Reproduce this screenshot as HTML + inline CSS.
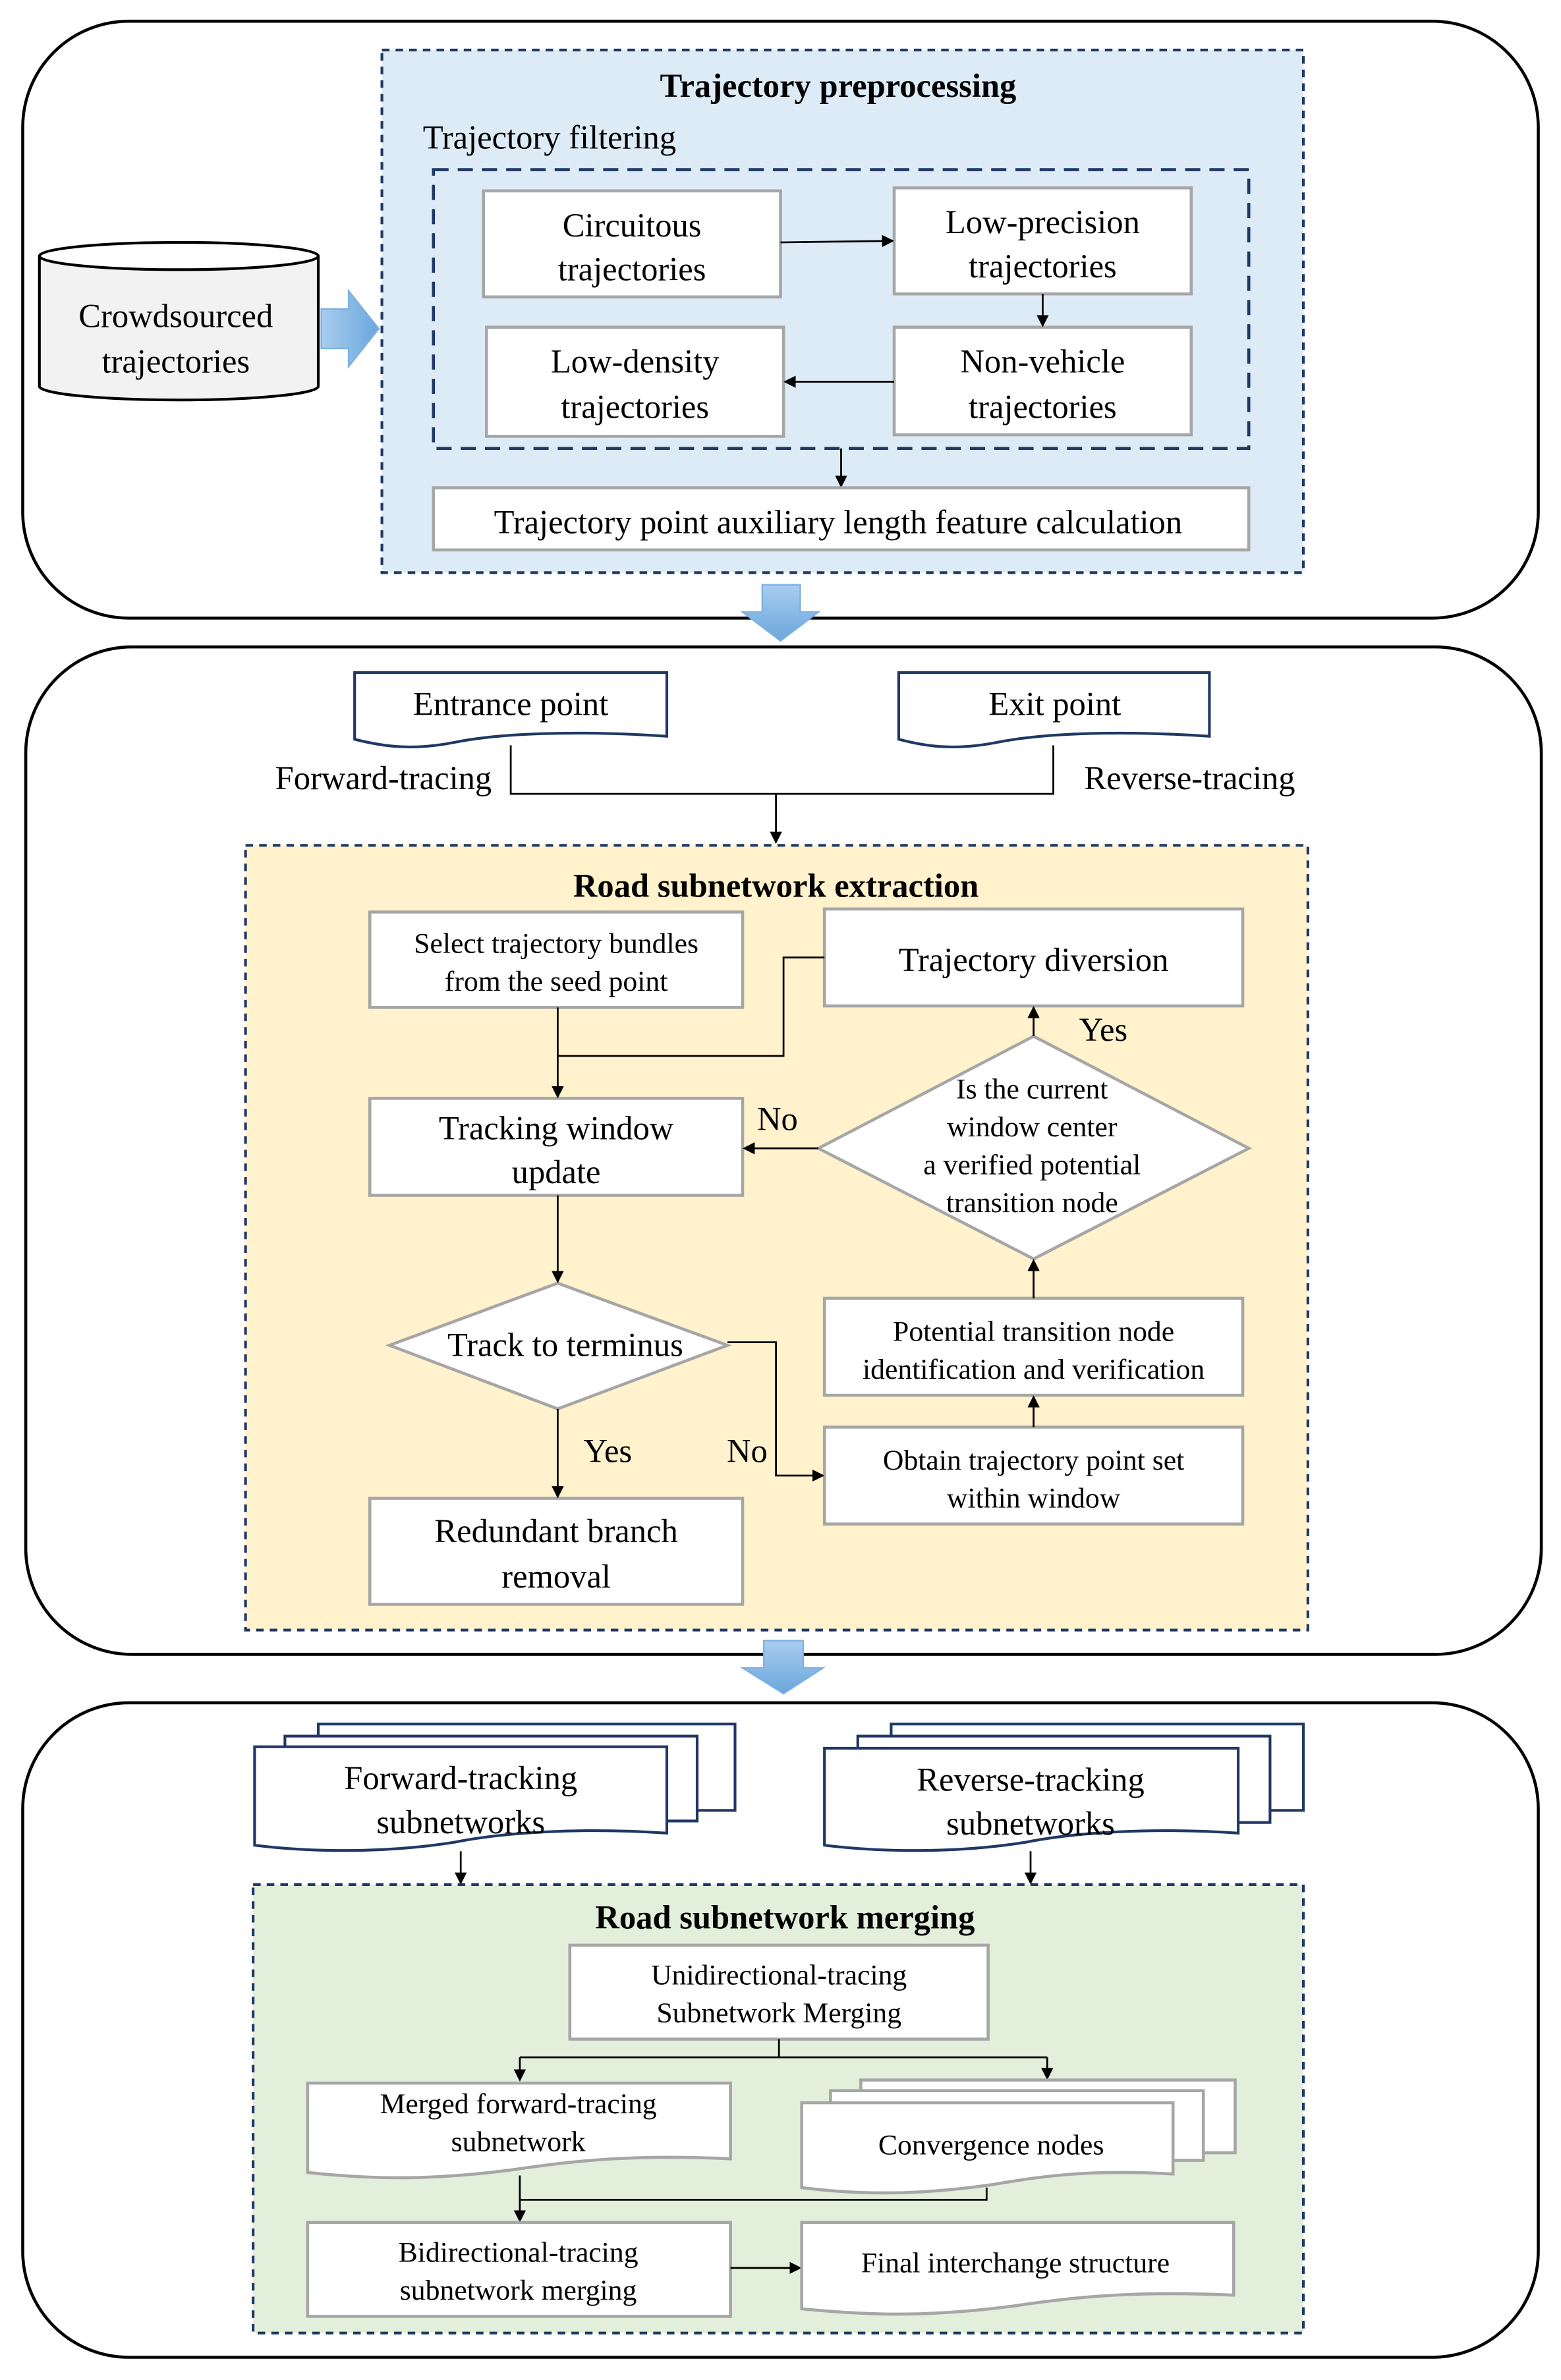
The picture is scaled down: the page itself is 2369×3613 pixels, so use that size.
<!DOCTYPE html>
<html><head><meta charset="utf-8"><style>
html,body{margin:0;padding:0;background:#fff;}
svg{display:block;}
text{font-family:"Liberation Serif",serif;fill:#000;}
.b{fill:#fff;stroke:#a6a6a6;stroke-width:2;}
.l{fill:none;stroke:#000;stroke-width:1.2;}
.p{fill:#fff;stroke:#000;stroke-width:1.8;}
.d{fill:#fff;stroke:#1f3864;stroke-width:1.8;}
</style></head><body>
<svg width="2369" height="3613" viewBox="0 0 1030 1571" preserveAspectRatio="none" xmlns="http://www.w3.org/2000/svg">
<defs>
<marker id="a" markerWidth="8" markerHeight="8" refX="7" refY="4" orient="auto" markerUnits="userSpaceOnUse"><path d="M0,0 L8,4 L0,8 Z" fill="#000"/></marker>
<linearGradient id="g" x1="0" y1="0" x2="0" y2="1"><stop offset="0" stop-color="#a9cdef"/><stop offset="1" stop-color="#6aa6dc"/></linearGradient>
<linearGradient id="gh" x1="0" y1="0" x2="1" y2="0"><stop offset="0" stop-color="#a9cdef"/><stop offset="1" stop-color="#6aa6dc"/></linearGradient>
</defs>

<!-- Panel 1 -->
<rect x="15" y="14" width="1000" height="394" rx="70" fill="#fff" stroke="#000" stroke-width="2"/>
<rect x="252" y="33" width="608" height="345" fill="#ddebf7" stroke="#1f3864" stroke-width="1.8" stroke-dasharray="5,4"/>
<text x="553" y="64" font-size="22" font-weight="bold" text-anchor="middle">Trajectory preprocessing</text>
<text x="279" y="98" font-size="22">Trajectory filtering</text>
<rect x="286" y="112" width="538" height="184" fill="none" stroke="#1f3864" stroke-width="2" stroke-dasharray="10,6"/>
<rect class="b" x="319" y="126" width="196" height="70"/>
<text x="417" y="156" font-size="22" text-anchor="middle">Circuitous</text>
<text x="417" y="185" font-size="22" text-anchor="middle">trajectories</text>
<rect class="b" x="590" y="124" width="196" height="70"/>
<text x="688" y="154" font-size="22" text-anchor="middle">Low-precision</text>
<text x="688" y="183" font-size="22" text-anchor="middle">trajectories</text>
<rect class="b" x="321" y="216" width="196" height="72"/>
<text x="419" y="246" font-size="22" text-anchor="middle">Low-density</text>
<text x="419" y="276" font-size="22" text-anchor="middle">trajectories</text>
<rect class="b" x="590" y="216" width="196" height="71"/>
<text x="688" y="246" font-size="22" text-anchor="middle">Non-vehicle</text>
<text x="688" y="276" font-size="22" text-anchor="middle">trajectories</text>
<line class="l" x1="515" y1="160" x2="589" y2="159" marker-end="url(#a)"/>
<line class="l" x1="688" y1="194" x2="688" y2="215" marker-end="url(#a)"/>
<line class="l" x1="590" y1="252" x2="518" y2="252" marker-end="url(#a)"/>
<line class="l" x1="555" y1="296" x2="555" y2="321" marker-end="url(#a)"/>
<rect class="b" x="286" y="322" width="538" height="41"/>
<text x="553" y="352" font-size="22" text-anchor="middle">Trajectory point auxiliary length feature calculation</text>
<!-- cylinder -->
<path d="M26,169 V255 A92,9 0 0 0 210,255 V169" fill="#f2f2f2" stroke="#000" stroke-width="1.8"/>
<ellipse cx="118" cy="169" rx="92" ry="9" fill="#fff" stroke="#000" stroke-width="1.8"/>
<text x="116" y="216" font-size="22" text-anchor="middle">Crowdsourced</text>
<text x="116" y="246" font-size="22" text-anchor="middle">trajectories</text>
<path d="M212,204 H230 V192 L250,217 L230,242 V230 H212 Z" fill="url(#gh)" stroke="#7eb1e0" stroke-width="1"/>
<path d="M503,386 H528 V404 H540 L515,423 L490,404 H503 Z" fill="url(#g)" stroke="#7eb1e0" stroke-width="1"/>

<!-- Panel 2 -->
<rect x="17" y="427" width="1000" height="665" rx="70" fill="#fff" stroke="#000" stroke-width="2"/>
<path d="M503,386 H528 V404 H540 L515,423 L490,404 H503 Z" fill="url(#g)" stroke="#7eb1e0" stroke-width="1"/>
<path class="d" d="M234,444 H440 V486 C380,482 330,484 300,490 C270,496 250,492 234,488 Z"/>
<text x="337" y="472" font-size="22" text-anchor="middle">Entrance point</text>
<path class="d" d="M593,444 H798 V486 C738,482 688,484 658,490 C628,496 608,492 593,488 Z"/>
<text x="696" y="472" font-size="22" text-anchor="middle">Exit point</text>
<text x="253" y="521" font-size="22" text-anchor="middle">Forward-tracing</text>
<text x="785" y="521" font-size="22" text-anchor="middle">Reverse-tracing</text>
<path class="l" d="M337,492 V524 H695 V492"/>
<line class="l" x1="512" y1="524" x2="512" y2="556" marker-end="url(#a)"/>
<rect x="162" y="558" width="701" height="518" fill="#fff2cc" stroke="#1f3864" stroke-width="1.8" stroke-dasharray="5,4"/>
<text x="512" y="592" font-size="22" font-weight="bold" text-anchor="middle">Road subnetwork extraction</text>
<rect class="b" x="244" y="602" width="246" height="63"/>
<text x="367" y="629" font-size="19" text-anchor="middle">Select trajectory bundles</text>
<text x="367" y="654" font-size="19" text-anchor="middle">from the seed point</text>
<rect class="b" x="544" y="600" width="276" height="64"/>
<text x="682" y="641" font-size="22" text-anchor="middle">Trajectory diversion</text>
<rect class="b" x="244" y="725" width="246" height="64"/>
<text x="367" y="752" font-size="22" text-anchor="middle">Tracking window</text>
<text x="367" y="781" font-size="22" text-anchor="middle">update</text>
<polygon class="b" points="682,684 824,758 682,831 540,758"/>
<text x="681" y="725" font-size="19" text-anchor="middle">Is the current</text>
<text x="681" y="750" font-size="19" text-anchor="middle">window center</text>
<text x="681" y="775" font-size="19" text-anchor="middle">a verified potential</text>
<text x="681" y="800" font-size="19" text-anchor="middle">transition node</text>
<polygon class="b" points="368,847 480,888 368,930 257,888"/>
<text x="373" y="895" font-size="22" text-anchor="middle">Track to terminus</text>
<rect class="b" x="244" y="989" width="246" height="70"/>
<text x="367" y="1018" font-size="22" text-anchor="middle">Redundant branch</text>
<text x="367" y="1048" font-size="22" text-anchor="middle">removal</text>
<rect class="b" x="544" y="857" width="276" height="64"/>
<text x="682" y="885" font-size="19" text-anchor="middle">Potential transition node</text>
<text x="682" y="910" font-size="19" text-anchor="middle">identification and verification</text>
<rect class="b" x="544" y="942" width="276" height="64"/>
<text x="682" y="970" font-size="19" text-anchor="middle">Obtain trajectory point set</text>
<text x="682" y="995" font-size="19" text-anchor="middle">within window</text>
<line class="l" x1="368" y1="665" x2="368" y2="724" marker-end="url(#a)"/>
<path class="l" d="M544,632 H517 V697 H368"/>
<line class="l" x1="682" y1="684" x2="682" y2="665" marker-end="url(#a)"/>
<text x="728" y="687" font-size="22" text-anchor="middle">Yes</text>
<line class="l" x1="540" y1="758" x2="491" y2="758" marker-end="url(#a)"/>
<text x="513" y="746" font-size="22" text-anchor="middle">No</text>
<line class="l" x1="368" y1="789" x2="368" y2="846" marker-end="url(#a)"/>
<line class="l" x1="368" y1="930" x2="368" y2="988" marker-end="url(#a)"/>
<text x="401" y="965" font-size="22" text-anchor="middle">Yes</text>
<path class="l" d="M480,886 H512 V974 H543" marker-end="url(#a)"/>
<text x="493" y="965" font-size="22" text-anchor="middle">No</text>
<line class="l" x1="682" y1="942" x2="682" y2="922" marker-end="url(#a)"/>
<line class="l" x1="682" y1="857" x2="682" y2="832" marker-end="url(#a)"/>

<!-- Panel 3 -->
<rect x="15" y="1124" width="1000" height="432" rx="70" fill="#fff" stroke="#000" stroke-width="2"/>
<path d="M504,1083 H530 V1101 H543 L517,1118 L490,1101 H504 Z" fill="url(#g)" stroke="#7eb1e0" stroke-width="1"/>
<!-- forward multidoc -->
<path class="d" d="M210,1138 H485 V1195 H210 Z"/>
<path class="d" d="M188,1146 H460 V1202 H188 Z"/>
<path class="d" d="M168,1153 H440 V1210 C380,1206 330,1210 300,1216 C250,1224 200,1222 168,1218 Z"/>
<text x="304" y="1181" font-size="22" text-anchor="middle">Forward-tracking</text>
<text x="304" y="1210" font-size="22" text-anchor="middle">subnetworks</text>
<path class="d" d="M588,1138 H860 V1195 H588 Z"/>
<path class="d" d="M566,1146 H838 V1203 H566 Z"/>
<path class="d" d="M544,1154 H817 V1210 C757,1206 707,1210 677,1216 C627,1224 577,1222 544,1218 Z"/>
<text x="680" y="1182" font-size="22" text-anchor="middle">Reverse-tracking</text>
<text x="680" y="1211" font-size="22" text-anchor="middle">subnetworks</text>
<line class="l" x1="304" y1="1222" x2="304" y2="1243" marker-end="url(#a)"/>
<line class="l" x1="680" y1="1222" x2="680" y2="1243" marker-end="url(#a)"/>
<rect x="167" y="1244" width="693" height="296" fill="#e2efda" stroke="#1f3864" stroke-width="1.8" stroke-dasharray="5,4"/>
<text x="518" y="1273" font-size="22" font-weight="bold" text-anchor="middle">Road subnetwork merging</text>
<rect class="b" x="376" y="1284" width="276" height="62"/>
<text x="514" y="1310" font-size="19" text-anchor="middle">Unidirectional-tracing</text>
<text x="514" y="1335" font-size="19" text-anchor="middle">Subnetwork Merging</text>
<path class="l" d="M514,1346 V1358 M343,1358 H691"/>
<line class="l" x1="343" y1="1358" x2="343" y2="1373" marker-end="url(#a)"/>
<line class="l" x1="691" y1="1358" x2="691" y2="1372" marker-end="url(#a)"/>
<path class="b" d="M203,1375 H482 V1425 C420,1422 380,1426 340,1432 C280,1440 240,1438 203,1434 Z"/>
<text x="342" y="1395" font-size="19" text-anchor="middle">Merged forward-tracing</text>
<text x="342" y="1420" font-size="19" text-anchor="middle">subnetwork</text>
<rect class="b" x="568" y="1373" width="247" height="48"/>
<rect class="b" x="548" y="1380" width="246" height="46"/>
<path class="b" d="M529,1388 H774 V1435 C720,1432 690,1436 655,1442 C600,1450 560,1448 529,1444 Z"/>
<text x="654" y="1422" font-size="19" text-anchor="middle">Convergence nodes</text>
<path class="l" d="M651,1444 V1452 H343"/>
<line class="l" x1="343" y1="1436" x2="343" y2="1466" marker-end="url(#a)"/>
<rect class="b" x="203" y="1467" width="279" height="62"/>
<text x="342" y="1493" font-size="19" text-anchor="middle">Bidirectional-tracing</text>
<text x="342" y="1518" font-size="19" text-anchor="middle">subnetwork merging</text>
<line class="l" x1="482" y1="1497" x2="528" y2="1497" marker-end="url(#a)"/>
<path class="b" d="M529,1467 H814 V1515 C750,1512 710,1516 670,1522 C610,1530 570,1528 529,1524 Z"/>
<text x="670" y="1500" font-size="19" text-anchor="middle">Final interchange structure</text>
</svg>
</body></html>
